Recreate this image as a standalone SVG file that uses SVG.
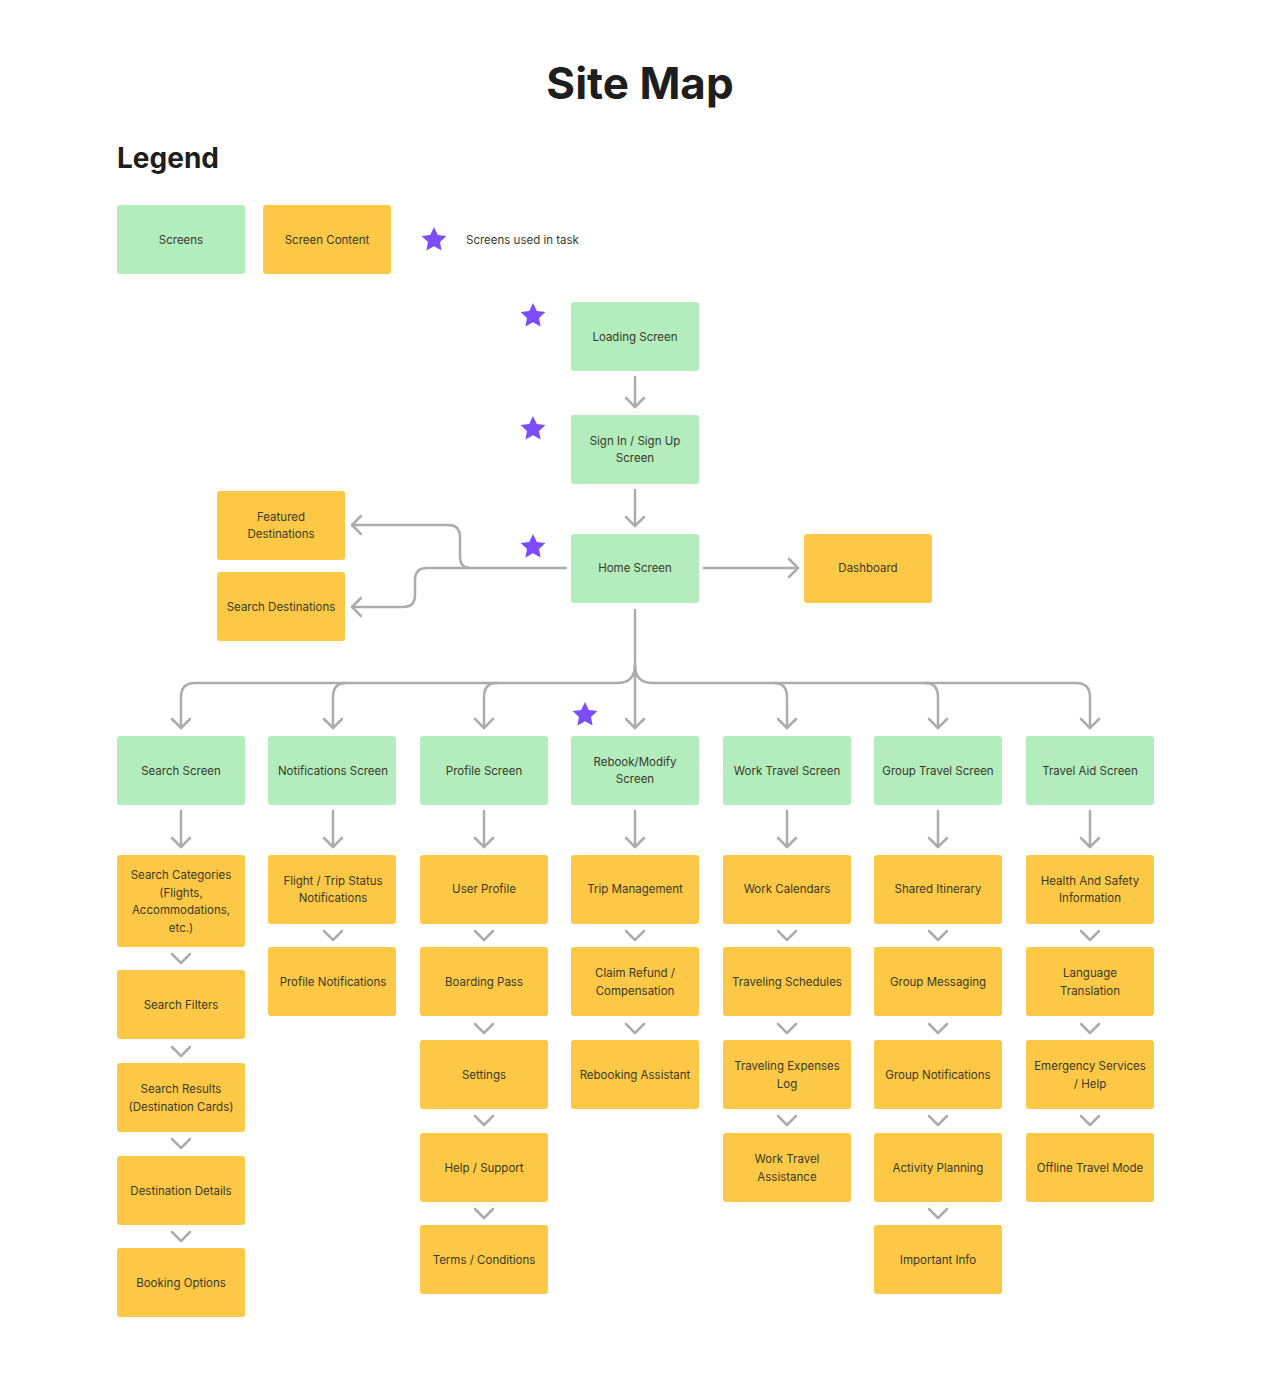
<svg xmlns="http://www.w3.org/2000/svg" width="1264" height="1382" viewBox="0 0 1264 1382">
<style>
.g{fill:#b3ecbd}.y{fill:#fdc845}
text{font-family:Inter,"Liberation Sans",sans-serif;font-size:11.5px;fill:#3a3a2a;text-anchor:middle}
.c{fill:none;stroke:#acacac;stroke-width:2.5;stroke-linecap:round;stroke-linejoin:round}
.st{fill:#7c4dff}
</style>
<defs>
<marker id="a" viewBox="0 0 20 20" refX="18" refY="10" markerWidth="20" markerHeight="20" markerUnits="userSpaceOnUse" orient="auto" overflow="visible"><path d="M9,1 L18,10 L9,19" fill="none" stroke="#acacac" stroke-width="2.5" stroke-linecap="round" stroke-linejoin="round"/></marker>
<path id="star" d="M0,-13 L3.8,-5 L12.4,-4 L6,2 L7.6,10.5 L0,6.3 L-7.6,10.5 L-6,2 L-12.4,-4 L-3.8,-5Z"/>
<path id="v" d="M-9,-5 L0,4 L9,-5"/>
</defs>
<rect width="1264" height="1382" fill="#fff"/>
<text x="640" y="99" style="font-size:44px;font-weight:700;fill:#1e1e1e">Site Map</text>
<text x="117" y="168" style="font-size:28px;font-weight:700;fill:#1e1e1e;text-anchor:start">Legend</text>
<g id="legend">
<rect class="g" x="117" y="205" width="128" height="69" rx="3"/><text x="181" y="244">Screens</text>
<rect class="y" x="263" y="205" width="128" height="69" rx="3"/><text x="327" y="244">Screen Content</text>
<use href="#star" class="st" x="434" y="240"/><text x="466" y="244" style="text-anchor:start">Screens used in task</text>
</g>
<g id="stars">
<use href="#star" class="st" x="533" y="316"/><use href="#star" class="st" x="533" y="429"/>
<use href="#star" class="st" x="533" y="547"/><use href="#star" class="st" x="585" y="715"/>
</g>
<g id="connectors" class="c">
<path marker-end="url(#a)" d="M635,377 V407"/>
<path marker-end="url(#a)" d="M635,490 V526"/>
<path marker-end="url(#a)" d="M704,568 H798"/>
<path marker-end="url(#a)" d="M566,568 H470 Q460,568 460,556 V537 Q460,525 448,525 H352"/>
<path marker-end="url(#a)" d="M470,568 H427 Q415,568 415,580 V595 Q415,607 403,607 H352"/>
<path marker-end="url(#a)" d="M635,610 V728"/>
<path marker-end="url(#a)" d="M635,665 Q635,683 617,683 H195 Q181,683 181,697 V728"/>
<path marker-end="url(#a)" d="M346,683 Q333,683 333,697 V728"/>
<path marker-end="url(#a)" d="M497,683 Q484,683 484,697 V728"/>
<path marker-end="url(#a)" d="M635,665 Q635,683 653,683 H1076 Q1090,683 1090,697 V728"/>
<path marker-end="url(#a)" d="M774,683 Q787,683 787,697 V728"/>
<path marker-end="url(#a)" d="M925,683 Q938,683 938,697 V728"/>
<path marker-end="url(#a)" d="M181,811 V847"/><path marker-end="url(#a)" d="M333,811 V847"/>
<path marker-end="url(#a)" d="M484,811 V847"/><path marker-end="url(#a)" d="M635,811 V847"/>
<path marker-end="url(#a)" d="M787,811 V847"/><path marker-end="url(#a)" d="M938,811 V847"/>
<path marker-end="url(#a)" d="M1090,811 V847"/>
<use href="#v" x="181" y="959"/><use href="#v" x="181" y="1052"/><use href="#v" x="181" y="1144"/><use href="#v" x="181" y="1237"/>
<use href="#v" x="333" y="936"/>
<use href="#v" x="484" y="936"/><use href="#v" x="484" y="1029"/><use href="#v" x="484" y="1121"/><use href="#v" x="484" y="1214"/>
<use href="#v" x="635" y="936"/><use href="#v" x="635" y="1029"/>
<use href="#v" x="787" y="936"/><use href="#v" x="787" y="1029"/><use href="#v" x="787" y="1121"/>
<use href="#v" x="938" y="936"/><use href="#v" x="938" y="1029"/><use href="#v" x="938" y="1121"/><use href="#v" x="938" y="1214"/>
<use href="#v" x="1090" y="936"/><use href="#v" x="1090" y="1029"/><use href="#v" x="1090" y="1121"/>
</g>
<g id="loading"><rect class="g" x="571" y="302" width="128" height="69" rx="3"/><text x="635" y="341">Loading Screen</text></g>
<g id="signin"><rect class="g" x="571" y="415" width="128" height="69" rx="3"/><text x="635" y="445">Sign In / Sign Up</text><text x="635" y="462">Screen</text></g>
<g id="home"><rect class="g" x="571" y="534" width="128" height="69" rx="3"/><text x="635" y="572">Home Screen</text></g>
<g id="dashboard"><rect class="y" x="804" y="534" width="128" height="69" rx="3"/><text x="868" y="572">Dashboard</text></g>
<g id="featured"><rect class="y" x="217" y="491" width="128" height="69" rx="3"/><text x="281" y="521">Featured</text><text x="281" y="538">Destinations</text></g>
<g id="searchdest"><rect class="y" x="217" y="572" width="128" height="69" rx="3"/><text x="281" y="611">Search Destinations</text></g>
<g id="screens">
<rect class="g" x="117" y="736" width="128" height="69" rx="3"/><text x="181" y="775">Search Screen</text>
<rect class="g" x="268" y="736" width="128" height="69" rx="3"/><text x="333" y="775">Notifications Screen</text>
<rect class="g" x="420" y="736" width="128" height="69" rx="3"/><text x="484" y="775">Profile Screen</text>
<rect class="g" x="571" y="736" width="128" height="69" rx="3"/><text x="635" y="766">Rebook/Modify</text><text x="635" y="783">Screen</text>
<rect class="g" x="723" y="736" width="128" height="69" rx="3"/><text x="787" y="775">Work Travel Screen</text>
<rect class="g" x="874" y="736" width="128" height="69" rx="3"/><text x="938" y="775">Group Travel Screen</text>
<rect class="g" x="1026" y="736" width="128" height="69" rx="3"/><text x="1090" y="775">Travel Aid Screen</text>
</g>
<g id="search-col">
<rect class="y" x="117" y="855" width="128" height="92" rx="3"/><text x="181" y="879">Search Categories</text><text x="181" y="897">(Flights,</text><text x="181" y="914">Accommodations,</text><text x="181" y="932">etc.)</text>
<rect class="y" x="117" y="970" width="128" height="69" rx="3"/><text x="181" y="1009">Search Filters</text>
<rect class="y" x="117" y="1063" width="128" height="69" rx="3"/><text x="181" y="1093">Search Results</text><text x="181" y="1111">(Destination Cards)</text>
<rect class="y" x="117" y="1156" width="128" height="69" rx="3"/><text x="181" y="1195">Destination Details</text>
<rect class="y" x="117" y="1248" width="128" height="69" rx="3"/><text x="181" y="1287">Booking Options</text>
</g>
<g id="notif-col">
<rect class="y" x="268" y="855" width="128" height="69" rx="3"/><text x="333" y="885">Flight / Trip Status</text><text x="333" y="902">Notifications</text>
<rect class="y" x="268" y="947" width="128" height="69" rx="3"/><text x="333" y="986">Profile Notifications</text>
</g>
<g id="profile-col">
<rect class="y" x="420" y="855" width="128" height="69" rx="3"/><text x="484" y="893">User Profile</text>
<rect class="y" x="420" y="947" width="128" height="69" rx="3"/><text x="484" y="986">Boarding Pass</text>
<rect class="y" x="420" y="1040" width="128" height="69" rx="3"/><text x="484" y="1079">Settings</text>
<rect class="y" x="420" y="1133" width="128" height="69" rx="3"/><text x="484" y="1172">Help / Support</text>
<rect class="y" x="420" y="1225" width="128" height="69" rx="3"/><text x="484" y="1264">Terms / Conditions</text>
</g>
<g id="rebook-col">
<rect class="y" x="571" y="855" width="128" height="69" rx="3"/><text x="635" y="893">Trip Management</text>
<rect class="y" x="571" y="947" width="128" height="69" rx="3"/><text x="635" y="977">Claim Refund /</text><text x="635" y="995">Compensation</text>
<rect class="y" x="571" y="1040" width="128" height="69" rx="3"/><text x="635" y="1079">Rebooking Assistant</text>
</g>
<g id="work-col">
<rect class="y" x="723" y="855" width="128" height="69" rx="3"/><text x="787" y="893">Work Calendars</text>
<rect class="y" x="723" y="947" width="128" height="69" rx="3"/><text x="787" y="986">Traveling Schedules</text>
<rect class="y" x="723" y="1040" width="128" height="69" rx="3"/><text x="787" y="1070">Traveling Expenses</text><text x="787" y="1088">Log</text>
<rect class="y" x="723" y="1133" width="128" height="69" rx="3"/><text x="787" y="1163">Work Travel</text><text x="787" y="1181">Assistance</text>
</g>
<g id="group-col">
<rect class="y" x="874" y="855" width="128" height="69" rx="3"/><text x="938" y="893">Shared Itinerary</text>
<rect class="y" x="874" y="947" width="128" height="69" rx="3"/><text x="938" y="986">Group Messaging</text>
<rect class="y" x="874" y="1040" width="128" height="69" rx="3"/><text x="938" y="1079">Group Notifications</text>
<rect class="y" x="874" y="1133" width="128" height="69" rx="3"/><text x="938" y="1172">Activity Planning</text>
<rect class="y" x="874" y="1225" width="128" height="69" rx="3"/><text x="938" y="1264">Important Info</text>
</g>
<g id="aid-col">
<rect class="y" x="1026" y="855" width="128" height="69" rx="3"/><text x="1090" y="885">Health And Safety</text><text x="1090" y="902">Information</text>
<rect class="y" x="1026" y="947" width="128" height="69" rx="3"/><text x="1090" y="977">Language</text><text x="1090" y="995">Translation</text>
<rect class="y" x="1026" y="1040" width="128" height="69" rx="3"/><text x="1090" y="1070">Emergency Services</text><text x="1090" y="1088">/ Help</text>
<rect class="y" x="1026" y="1133" width="128" height="69" rx="3"/><text x="1090" y="1172">Offline Travel Mode</text>
</g>
</svg>
